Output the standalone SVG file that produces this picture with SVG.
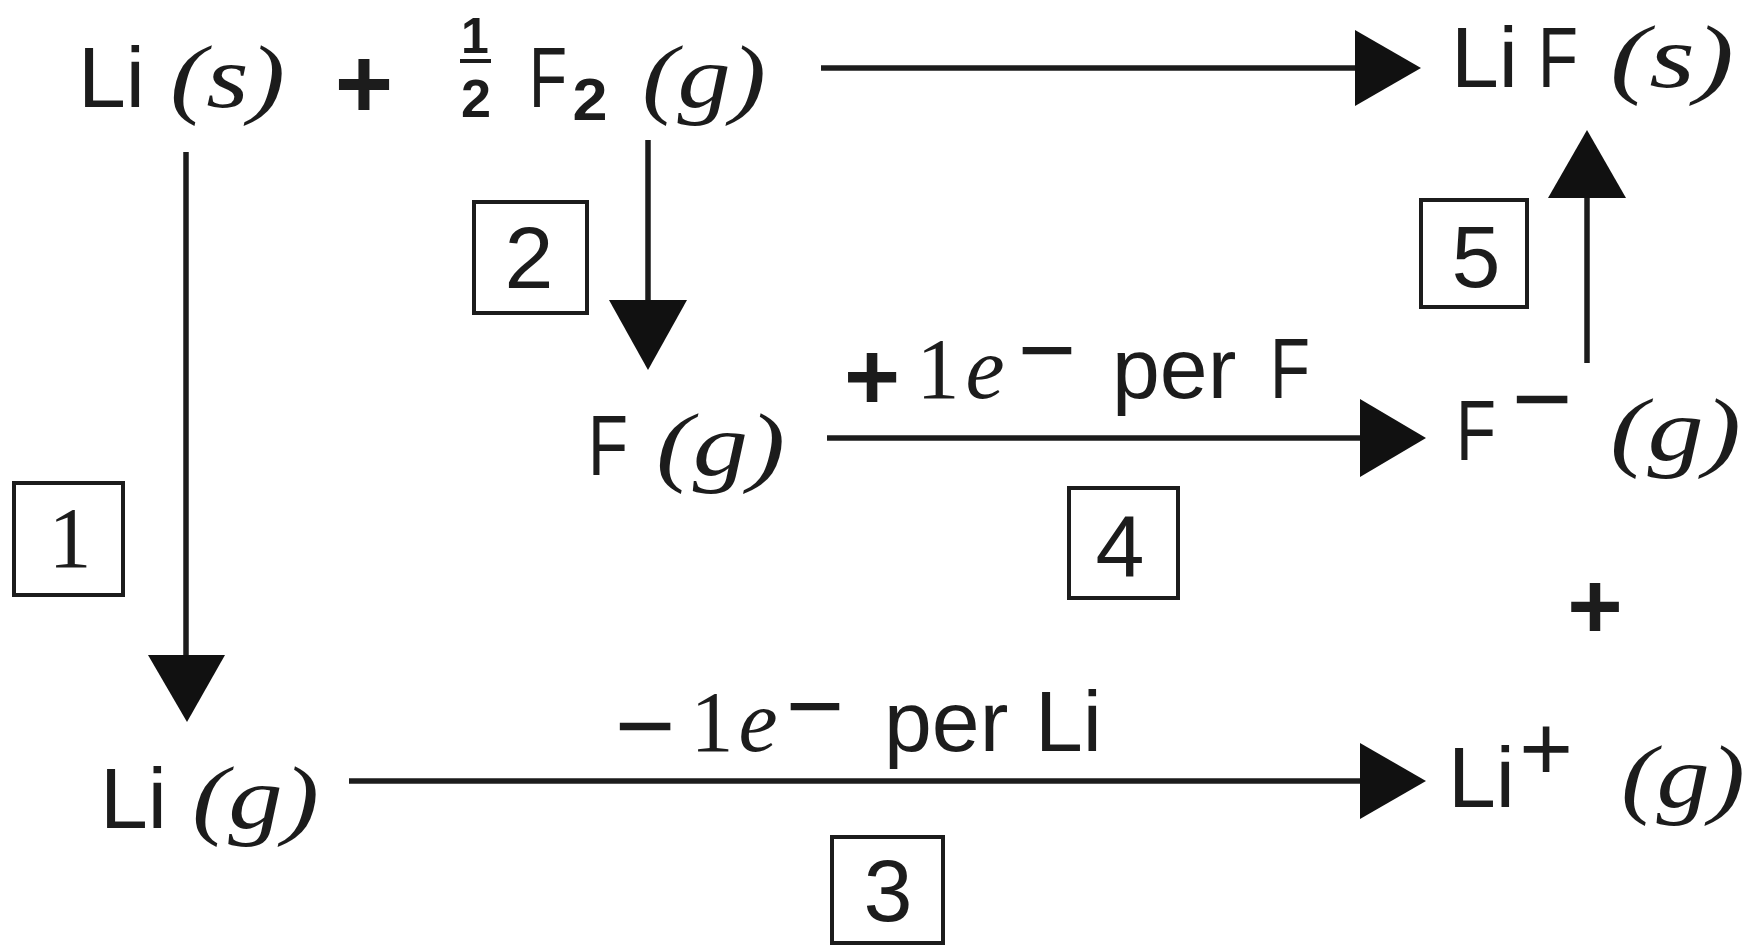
<svg xmlns="http://www.w3.org/2000/svg" width="1752" height="947" viewBox="0 0 1752 947">
<defs>
<style>
.s{font-family:"Liberation Sans",Arial,sans-serif;font-size:86px;fill:#1c1c1c}
.i{font-family:"Liberation Serif","Times New Roman",serif;font-style:italic;font-size:88px;fill:#1c1c1c}
.r{font-family:"Liberation Serif","Times New Roman",serif;font-size:86px;fill:#1c1c1c}
.b{font-family:"Liberation Sans",Arial,sans-serif;font-weight:bold;fill:#1c1c1c;text-anchor:middle}
.m{font-family:"Liberation Sans",Arial,sans-serif;fill:#1c1c1c;text-anchor:middle}
.d{font-family:"Liberation Sans",Arial,sans-serif;font-size:88px;fill:#1c1c1c;text-anchor:middle}
.box{fill:none;stroke:#1c1c1c;stroke-width:4}
.ln{stroke:#1c1c1c;stroke-width:5.5;fill:none}
.hd{fill:#111}
</style>
</defs>
<rect width="1752" height="947" fill="#ffffff"/>

<g id="connectors">
  <line class="ln" x1="821" y1="68" x2="1362" y2="68"/>
  <polygon class="hd" points="1355,30 1421,68 1355,106"/>
  <line class="ln" x1="186" y1="152" x2="186" y2="660"/>
  <polygon class="hd" points="148,655 225,655 187,722"/>
  <line class="ln" x1="648" y1="140" x2="648" y2="305"/>
  <polygon class="hd" points="609,300 687,300 648,370"/>
  <line class="ln" x1="827" y1="438" x2="1365" y2="438"/>
  <polygon class="hd" points="1360,399 1426,438 1360,477"/>
  <line class="ln" x1="1587" y1="363" x2="1587" y2="192"/>
  <polygon class="hd" points="1548,198 1626,198 1587,130"/>
  <line class="ln" x1="349" y1="781" x2="1365" y2="781"/>
  <polygon class="hd" points="1360,743 1426,781 1360,819"/>
</g>

<g id="node-reactants">
  <text class="s" x="78" y="107">Li</text>
  <text class="i" x="170" y="107" textLength="115" lengthAdjust="spacingAndGlyphs">(s)</text>
  <text class="b" x="364" y="118" font-size="100">+</text>
  <text class="b" x="475" y="53" font-size="50">1</text>
  <line x1="460" y1="61" x2="491" y2="61" stroke="#1c1c1c" stroke-width="4"/>
  <text class="b" x="476" y="117" font-size="54">2</text>
  <text class="s" x="529" y="107" textLength="38" lengthAdjust="spacingAndGlyphs">F</text>
  <text class="b" x="590" y="120" font-size="60" textLength="35" lengthAdjust="spacingAndGlyphs">2</text>
  <text class="i" x="642" y="107" textLength="124" lengthAdjust="spacingAndGlyphs">(g)</text>
</g>

<g id="node-LiF">
  <text class="s" x="1451" y="87">Li</text>
  <text class="s" x="1538" y="87" textLength="40" lengthAdjust="spacingAndGlyphs">F</text>
  <text class="i" x="1610" y="87" textLength="124" lengthAdjust="spacingAndGlyphs">(s)</text>
</g>

<g id="node-Fg">
  <text class="s" x="588" y="475" textLength="40" lengthAdjust="spacingAndGlyphs">F</text>
  <text class="i" x="656" y="475" textLength="129" lengthAdjust="spacingAndGlyphs">(g)</text>
</g>

<g id="node-Fminus">
  <text class="s" x="1456" y="460" textLength="40" lengthAdjust="spacingAndGlyphs">F</text>
  <text class="m" x="1542" y="434" font-size="104">−</text>
  <text class="i" x="1610" y="460" textLength="131" lengthAdjust="spacingAndGlyphs">(g)</text>
</g>

<g id="node-plus">
  <text class="b" x="1595" y="638" font-size="95">+</text>
</g>

<g id="node-Lig">
  <text class="s" x="100" y="828">Li</text>
  <text class="i" x="192" y="828" textLength="127" lengthAdjust="spacingAndGlyphs">(g)</text>
</g>

<g id="node-Liplus">
  <text class="s" x="1448" y="807">Li</text>
  <text class="m" x="1546" y="780" font-size="92">+</text>
  <text class="i" x="1621" y="807" textLength="124" lengthAdjust="spacingAndGlyphs">(g)</text>
</g>

<g id="label-4">
  <text class="b" x="872" y="410" font-size="96">+</text>
  <text class="r" x="938" y="398" text-anchor="middle">1</text>
  <text class="i" x="985" y="398" text-anchor="middle" font-size="86">e</text>
  <text class="m" x="1047" y="384" font-size="100">−</text>
  <text class="s" x="1112" y="398">per</text>
  <text class="s" x="1270" y="398" textLength="40" lengthAdjust="spacingAndGlyphs">F</text>
</g>

<g id="label-3">
  <text class="m" x="645" y="761" font-size="104">−</text>
  <text class="r" x="712" y="751" text-anchor="middle">1</text>
  <text class="i" x="758" y="751" text-anchor="middle" font-size="86">e</text>
  <text class="m" x="815" y="740" font-size="100">−</text>
  <text class="s" x="884" y="751">per</text>
  <text class="s" x="1035" y="751">Li</text>
</g>

<g id="step-1">
  <rect class="box" x="14" y="483" width="109" height="112"/>
  <text class="r" x="70" y="567" font-size="98" text-anchor="middle">1</text>
</g>
<g id="step-2">
  <rect class="box" x="474" y="202" width="113" height="111"/>
  <text class="d" x="529" y="288">2</text>
</g>
<g id="step-3">
  <rect class="box" x="832" y="837" width="111" height="106"/>
  <text class="d" x="888" y="921">3</text>
</g>
<g id="step-4">
  <rect class="box" x="1069" y="488" width="109" height="110"/>
  <text class="d" x="1120" y="577">4</text>
</g>
<g id="step-5">
  <rect class="box" x="1421" y="200" width="106" height="107"/>
  <text class="d" x="1476" y="287">5</text>
</g>
</svg>
